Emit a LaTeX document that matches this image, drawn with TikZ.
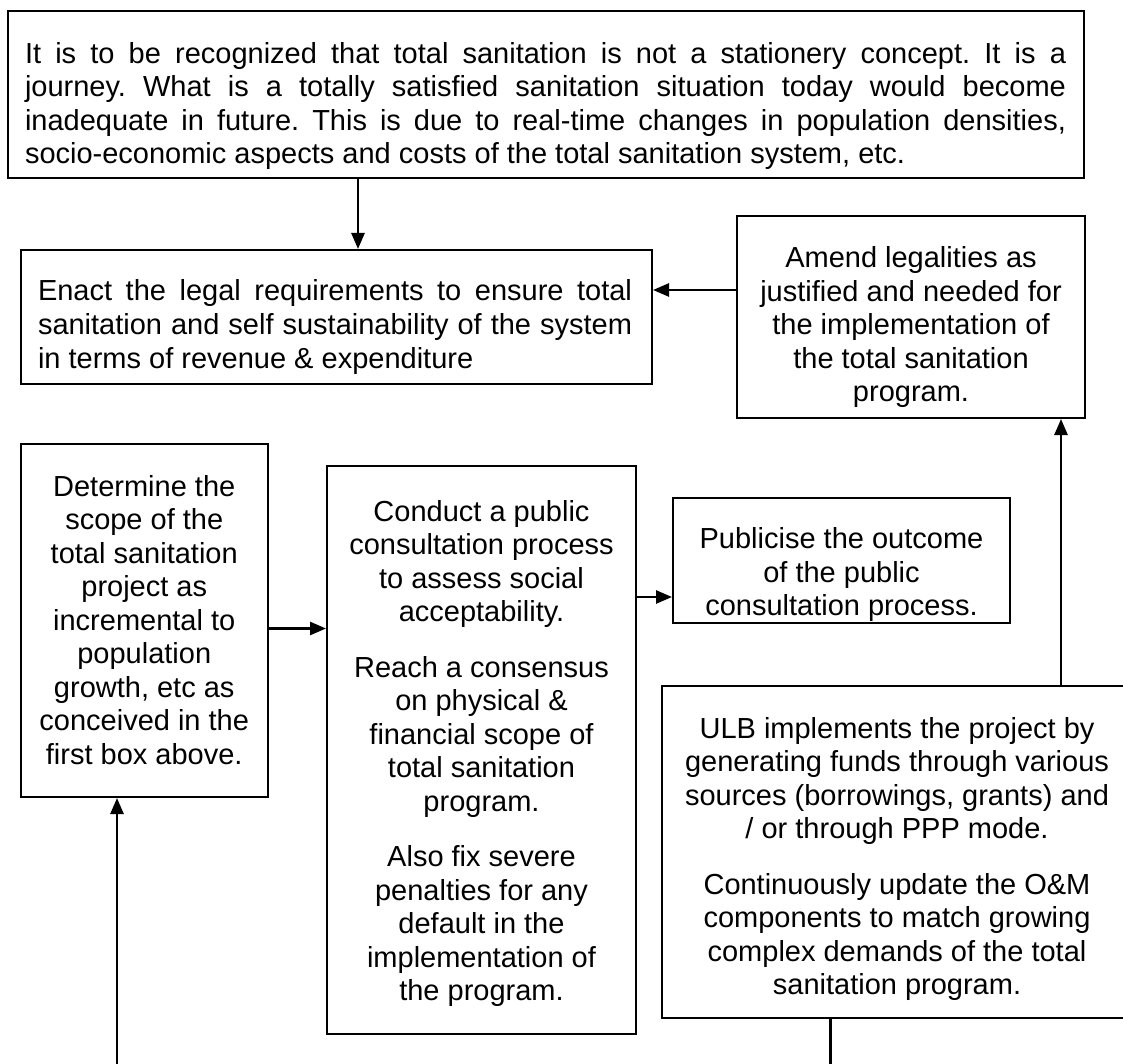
\documentclass[tikz,border=0pt]{standalone}
\usepackage{fontspec}
\setmainfont{Liberation Sans}
\usetikzlibrary{arrows.meta}
\frenchspacing
\begin{document}
\begin{tikzpicture}[x=1pt,y=-1pt,
  box/.style={draw, line width=2pt, inner sep=0pt},
  txt/.style={inner sep=0pt, outer sep=0pt, font=\fontsize{29}{33.5}\selectfont\frenchspacing},
  arr/.style={line width=2.6pt, -{Triangle[length=16pt,width=13pt]}},
  ln/.style={line width=2.6pt}]
\useasboundingbox (0,0) rectangle (1123,1064);

% boxes
\node[box, minimum width=1076pt, minimum height=166.5pt] (top) at (546,94.75) {};
\node[box, minimum width=631pt, minimum height=134pt] (enact) at (336.5,317) {};
\node[box, minimum width=348pt, minimum height=202pt] (amend) at (911,317) {};
\node[box, minimum width=247.5pt, minimum height=353pt] (det) at (144.25,620.5) {};
\node[box, minimum width=309pt, minimum height=568pt] (conduct) at (481.5,750) {};
\node[box, minimum width=337pt, minimum height=125.5pt] (pub) at (841.5,560.25) {};
\node[box, minimum width=470pt, minimum height=332pt] (ulb) at (897,851.5) {};

% texts
\node[txt, anchor=base west] (toptext) at (25,63.3) {\parbox[t]{1041pt}{%
\makebox[\linewidth][s]{It is to be recognized that total sanitation is not a stationery concept. It is a}\\
\makebox[\linewidth][s]{journey. What is a totally satisfied sanitation situation today would become}\\
\makebox[\linewidth][s]{inadequate in future. This is due to real-time changes in population densities,}\\
socio-economic aspects and costs of the total sanitation system, etc.}};

\node[txt, anchor=base west] (enacttext) at (38,301) {\parbox[t]{594pt}{%
\makebox[\linewidth][s]{Enact the legal requirements to ensure total}\\
\makebox[\linewidth][s]{sanitation and self sustainability of the system}\\
in terms of revenue \& expenditure}};

\node[txt, anchor=base] (amendtext) at (911,268) {\parbox[t]{340pt}{\centering
Amend legalities as\\ justified and needed for\\ the implementation of\\ the total sanitation\\ program.}};

\node[txt, anchor=base] (dettext) at (144.25,496) {\parbox[t]{240pt}{\centering
Determine the\\ scope of the\\ total sanitation\\ project as\\ incremental to\\ population\\ growth, etc as\\ conceived in the\\ first box above.}};

\node[txt, anchor=base] (conducttext) at (481.5,521) {\parbox[t]{300pt}{\centering
Conduct a public\\ consultation process\\ to assess social\\ acceptability.\\[22pt]
Reach a consensus\\ on physical \&\\ financial scope of\\ total sanitation\\ program.\\[22pt]
Also fix severe\\ penalties for any\\ default in the\\ implementation of\\ the program.}};

\node[txt, anchor=base] (pubtext) at (841.5,548.5) {\parbox[t]{330pt}{\centering
Publicise the outcome\\ of the public\\ consultation process.}};

\node[txt, anchor=base] (ulbtext) at (897,738) {\parbox[t]{460pt}{\centering
ULB implements the project by\\ generating funds through various\\ sources (borrowings, grants) and\\ / or through PPP mode.\\[22pt]
Continuously update the O\&M\\ components to match growing\\ complex demands of the total\\ sanitation program.}};

% connectors
\coordinate (cA) at (358,0);
\draw[arr] (top.south -| cA) -- (enact.north -| cA);
\coordinate (cB) at (0,290);
\draw[arr] (amend.west |- cB) -- (enact.east |- cB);
\coordinate (cC) at (1061,0);
\draw[arr] (ulb.north -| cC) -- (amend.south -| cC);
\coordinate (cD) at (0,628.5);
\draw[arr] (det.east |- cD) -- (conduct.west |- cD);
\coordinate (cE) at (0,597);
\draw[arr] (conduct.east |- cE) -- (pub.west |- cE);
\coordinate (endR) at (830.5,1070);
\draw[ln] (ulb.south -| endR) -- (endR);
\coordinate (endL) at (117,1070);
\draw[arr] (endL) -- (det.south -| endL);
\end{tikzpicture}
\end{document}
